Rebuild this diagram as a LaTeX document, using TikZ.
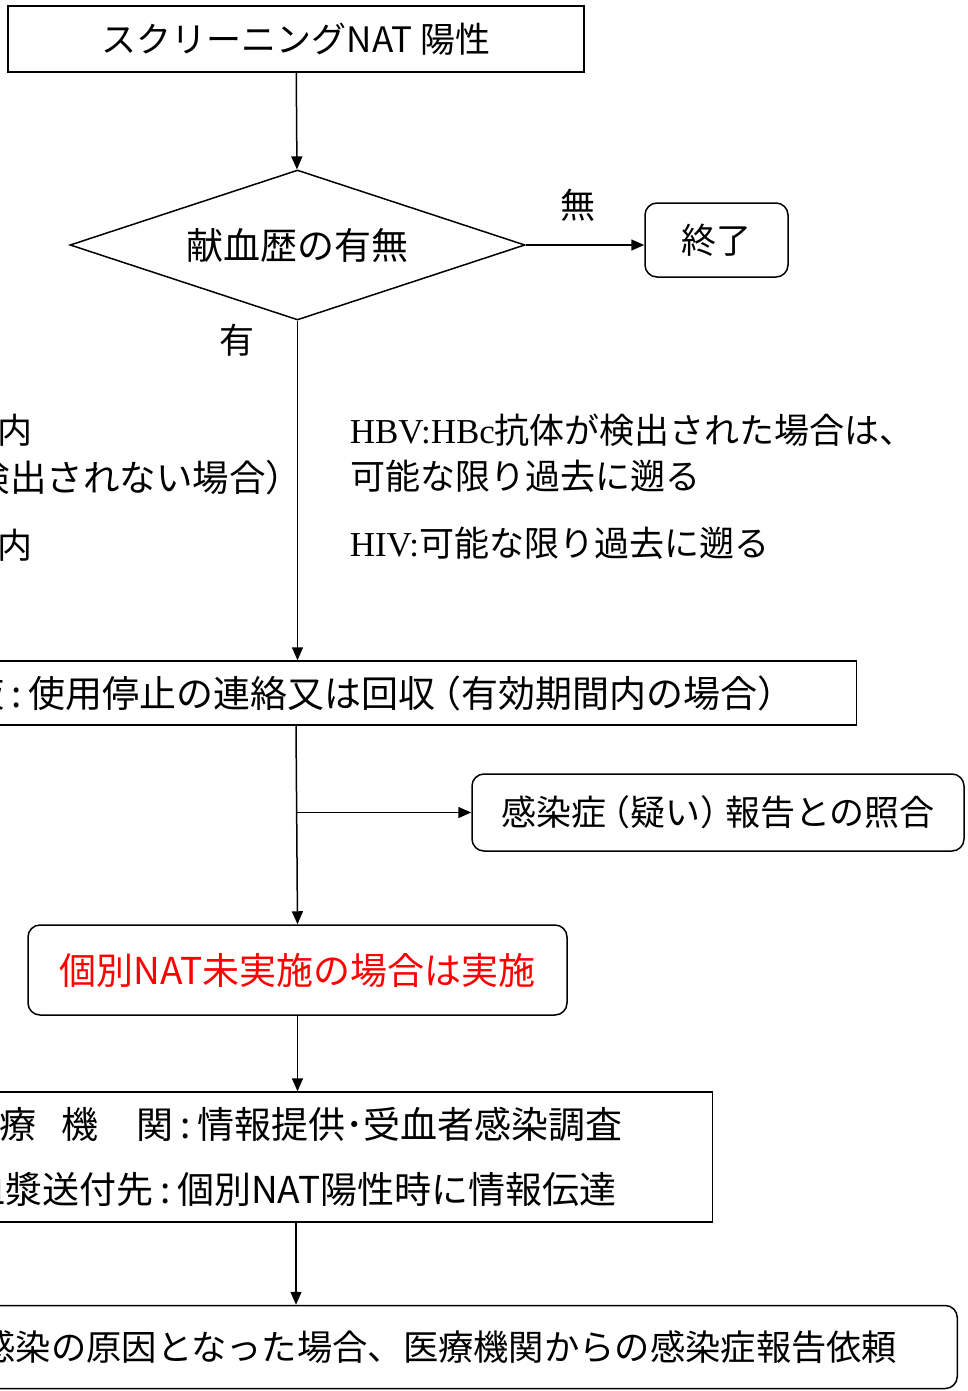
\documentclass[tikz,border=0pt]{standalone}
\usepackage{fontspec}
\setmainfont{Noto Sans CJK JP}
\newfontfamily\serifrm{Liberation Serif}
\usepackage{tikz}
\usetikzlibrary{arrows.meta,positioning,shapes.geometric}
\tikzset{>/.tip={Triangle[length=13pt,width=11pt]}}
\tikzset{box/.style={draw,line width=1.5pt,inner sep=0pt}}
\tikzset{rbox/.style={box,rounded corners=12pt}}
\tikzset{note/.style={inner sep=0pt}}
\newcommand\lpar{\makebox[0.7em][r]{（}}
\newcommand\rpar{\makebox[0.7em][l]{）}}
\newcommand\cln{\makebox[24pt]{:}}
\colorlet{alert}{red}

\begin{document}
\begin{tikzpicture}[x=1pt,y=-1pt,font=\fontsize{35}{42}\selectfont,line width=1.5pt]
        \useasboundingbox (0,0) rectangle (968,1391);
        \clip (0,0) rectangle (968,1391);
        \node(nat)[box,minimum width=576pt,minimum height=66pt] at (296,39){スクリーニングNAT 陽性};
        \node(hist)[diamond,draw,line width=1.5pt,inner sep=0pt,aspect=3.03,minimum width=455pt,minimum height=150pt,font=\fontsize{37}{42}\selectfont] at (297.5,245){献血歴の有無};
        \node(fin)[rbox,minimum width=143pt,minimum height=74pt] at (716.5,240){終了};
        \node(no)[note] at (578,205){無};
        \node(yes)[note] at (237,340){有};
        % left side notes
        \node(l1)[note,anchor=base east] at (33,443){内};
        \node(l2)[note,anchor=base east,font=\fontsize{36.5}{42}\selectfont] at (292,491){検出されない場合\rpar};
        \node(l3)[note,anchor=base east] at (33,558){内};
        % right side notes
        \node(r1)[note,anchor=base west] at (349,443){{\serifrm HBV:HBc}抗体が検出された場合は、};
        \node(r2)[note,anchor=base west] at (350,489){可能な限り過去に遡る};
        \node(r3)[note,anchor=base west] at (349,556){{\serifrm HIV:}可能な限り過去に遡る};
        \node(stop)[box,anchor=east,text width=1100pt,align=right,inner xsep=73pt,minimum height=64pt,font=\fontsize{37}{42}\selectfont] at (857,693){液\cln 使用停止の連絡又は回収\lpar 有効期間内の場合\rpar};
        \node(check)[rbox,minimum width=492pt,minimum height=77pt] at (718,812.5){感染症\lpar 疑い\rpar 報告との照合};
        \node(ind)[rbox,minimum width=539pt,minimum height=90pt,text=alert,font=\fontsize{37}{42}\selectfont] at (297.5,970){個別NAT未実施の場合は実施};
        \node(info)[box,anchor=east,text width=734pt,align=left,inner xsep=10pt,minimum height=130pt,font=\fontsize{37}{65}\selectfont] at (713,1157){\hspace{31pt}療\hspace{25pt}機\hspace{38pt}関\cln 情報提供･受血者感染調査\\血漿送付先\cln 個別NAT陽性時に情報伝達};
        \node(req)[rbox,anchor=east,text width=1000pt,align=right,inner xsep=60pt,minimum height=83pt,font=\fontsize{35.3}{42}\selectfont] at (958,1347){感染の原因となった場合、医療機関からの感染症報告依頼};
        \path[->]
        (nat) edge (hist)
        (hist.east) edge (hist.east -| fin.west)
        (hist.south) edge (hist.south |- stop.north)
        (stop.south -| nat.south) edge (ind.north)
        (check.west -| nat.south) edge (check.west)
        (ind.south) edge (ind.south |- info.north)
        (info.south -| nat.south) edge (req.north -| nat.south);
\end{tikzpicture}
\end{document}
